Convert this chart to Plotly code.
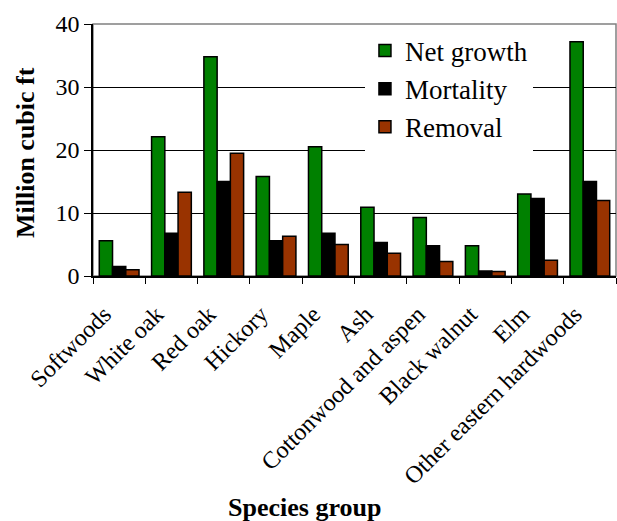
import plotly.graph_objects as go

categories = ["Softwoods", "White oak", "Red oak", "Hickory", "Maple", "Ash",
              "Cottonwood and aspen", "Black walnut", "Elm", "Other eastern hardwoods"]
net_growth = [5.6, 22.1, 34.8, 15.8, 20.5, 10.9, 9.3, 4.8, 13.0, 37.2]
mortality = [1.5, 6.8, 15.0, 5.6, 6.8, 5.3, 4.8, 0.8, 12.3, 15.0]
removal = [1.0, 13.3, 19.5, 6.3, 5.0, 3.6, 2.3, 0.7, 2.5, 12.0]
y_ticks = [0, 10, 20, 30, 40]

FONT = "Times New Roman"

fig = go.Figure()
for name, vals, color in [("Net growth", net_growth, "#008000"),
                          ("Mortality", mortality, "#000000"),
                          ("Removal", removal, "#993300")]:
    fig.add_trace(go.Bar(x=categories, y=vals, name=name,
                         marker=dict(color=color, line=dict(color="#000000", width=1.5))))

fig.update_layout(
    width=617, height=521,
    margin=dict(l=93, r=1, t=24, b=245),
    paper_bgcolor="white", plot_bgcolor="white",
    barmode="group", bargap=0.24, bargroupgap=0,
    font=dict(family=FONT, size=24, color="#000000"),
    showlegend=True,
    legend=dict(x=0.52, y=0.99, xanchor="left", yanchor="top",
                bgcolor="white", borderwidth=0,
                font=dict(family=FONT, size=27, color="#000000"),
                tracegroupgap=0, itemwidth=30),
    shapes=[dict(type="rect", xref="paper", yref="paper", x0=0, x1=1, y0=0, y1=1,
                 line=dict(color="#808080", width=1.5), layer="below")],
    annotations=[
        dict(text="<b>Species group</b>", xref="paper", yref="paper",
             x=0.405, y=-0.92, xanchor="center", yanchor="middle", showarrow=False,
             font=dict(family=FONT, size=26)),
        dict(text="<b>Million cubic ft</b>", xref="paper", yref="paper", textangle=-90,
             x=-0.13, y=0.488, xanchor="center", yanchor="middle", showarrow=False,
             font=dict(family=FONT, size=26)),
    ],
)
fig.update_xaxes(
    type="category", tickangle=-45, tickson="boundaries", automargin=False,
    ticks="outside", ticklen=6, tickcolor="#000000",
    showline=True, linecolor="#000000", linewidth=1.5,
    showgrid=False,
    tickfont=dict(family=FONT, size=24),
    ticklabelstandoff=13, ticklabelshift=-15,
)
fig.update_yaxes(
    range=[0, 40], tickvals=y_ticks, automargin=False,
    ticks="outside", ticklen=7, tickcolor="#000000",
    showline=True, linecolor="#000000", linewidth=1.5,
    showgrid=True, gridcolor="#000000", gridwidth=1,
    zeroline=False,
    tickfont=dict(family=FONT, size=24),
)

fig.write_html("out.html", config={"displayModeBar": False},
               post_script="document.body.style.margin='0';document.body.style.padding='0';")
